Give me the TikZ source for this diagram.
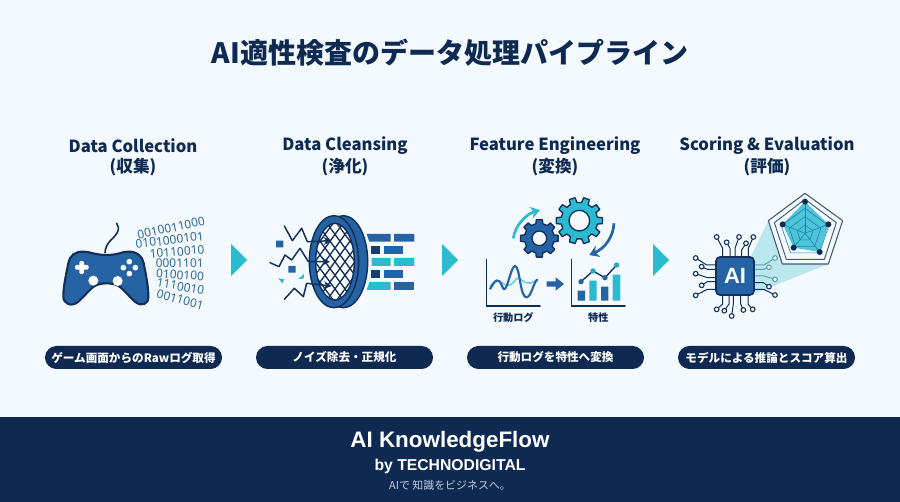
\documentclass[tikz,border=0pt]{standalone}
\usepackage{fontspec}
\setmainfont{Noto Sans CJK JP}
\newfontfamily\latinf{Noto Sans}
\newfontfamily\brandf{Liberation Sans}
\usetikzlibrary{arrows.meta,shapes.geometric}
\definecolor{navy}{HTML}{0E2A53}
\definecolor{ink}{HTML}{10305A}
\definecolor{blu}{HTML}{2563A5}
\definecolor{teal}{HTML}{2BBBD0}
\definecolor{bg}{HTML}{F3F9FC}
\definecolor{digit}{HTML}{2F6A9A}
\definecolor{tag}{HTML}{BFCEDF}
\definecolor{softpin}{HTML}{5F9FB0}
\tikzset{
  title/.style={text=navy,font=\bfseries\fontsize{21}{24}\selectfont,inner sep=0},
  head/.style={text=navy,font=\bfseries\fontsize{12.5}{16}\selectfont,inner sep=0},
  pill/.style={fill=navy,rounded corners=8.6pt,minimum width=132.75pt,minimum height=17.25pt,inner sep=0,text=white,font=\bfseries\fontsize{8.7}{10}\selectfont},
  next/.style={fill=teal},
  bin/.style={text=digit,inner sep=0,anchor=east,font=\latinf\fontsize{9}{10}\selectfont},
  lab/.style={text=navy,font=\bfseries\fontsize{7.6}{9}\selectfont,inner sep=0},
  line/.style={draw=ink,line width=1.1pt,line join=round,line cap=round},
  pin/.style={line width=.8pt,fill=bg},
  trace/.style={line width=.75pt,line join=round},
  zoomed/.style={x=.25pt,y=-.25pt},
  brand/.style={text=white,inner sep=0,font=\brandf\bfseries\fontsize{16.8}{18}\selectfont},
  byline/.style={text=white,inner sep=0,font=\brandf\bfseries\fontsize{11.8}{13}\selectfont},
  tagline/.style={text=tag,inner sep=0,font=\fontsize{8.2}{9}\selectfont}
}
\newcommand{\gearshape}[7]{%
  \begin{scope}[shift={(#1,#2)}]
  \pgfmathsetmacro{\pt}{360/#5}
  \filldraw[fill=#7,draw=ink,line width=1pt,line join=round]
   \foreach \k in {1,...,#5}{
     \ifnum\k=1 ({\pt*\k-.3*\pt}:#4) \else -- ({\pt*\k-.3*\pt}:#4) \fi
     -- ({\pt*\k-.2*\pt}:#3) -- ({\pt*\k+.2*\pt}:#3) -- ({\pt*\k+.3*\pt}:#4)
   } -- cycle;
  \filldraw[fill=bg,draw=ink,line width=1pt] (0,0) circle[radius=#6];
  \end{scope}}
\begin{document}
\begin{tikzpicture}[x=.75pt,y=-.75pt]
\useasboundingbox (0,0) rectangle (900,502);
\fill[bg] (0,0) rectangle (900,502);
\fill[navy] (0,417) rectangle (900,502);
\node[title] (t) at (450,53) {AI適性検査のデータ処理パイプライン};

\node[head] (h1) at (133,146) {Data Collection};
\node[head] (h1b) at (133,167) {(収集)};
\node[head] (h2) at (345,146) {Data Cleansing};
\node[head] (h2b) at (345,167) {(浄化)};
\node[head] (h3) at (555,146) {Feature Engineering};
\node[head] (h3b) at (555,167) {(変換)};
\node[head] (h4) at (767,146) {Scoring \& Evaluation};
\node[head] (h4b) at (767,167) {(評価)};

\node[pill] (p1) at (133.5,357.5) {ゲーム画面からのRawログ取得};
\node[pill] (p2) at (344.5,357.5) {ノイズ除去・正規化};
\node[pill] (p3) at (555.5,357.5) {行動ログを特性へ変換};
\node[pill] (p4) at (766.5,357.5) {モデルによる推論とスコア算出};

\fill[next] (231,244) -- (247,260) -- (231,276) -- cycle;
\fill[next] (442,244) -- (458,260) -- (442,276) -- cycle;
\fill[next] (653,244) -- (669,260) -- (653,276) -- cycle;

\node[brand] (f1) at (450,442) {AI KnowledgeFlow};
\node[byline] (f2) at (450,466) {by TECHNODIGITAL};
\node[tagline] (f3) at (450,485) {AIで 知識をビジネスへ。};

% controller
\begin{scope}[shift={(40,200)},zoomed]
\node[bin,rotate=12] (b1) at (495,62) {0010011000};
\node[bin,rotate=7] (b2) at (492,108) {0101000101};
\node[bin,rotate=5] (b3) at (494,148) {10110010};
\node[bin,rotate=1] (b4) at (492,188) {0001101};
\node[bin,rotate=-4] (b5) at (493,230) {0100100};
\node[bin,rotate=-10] (b6) at (493,272) {1110010};
\node[bin,rotate=-15] (b7) at (491,318) {0011001};
\draw[ink,line width=1.2pt,line cap=round] (195,158) .. controls (197,125) and (222,118) .. (233,95) .. controls (238,85) and (234,78) .. (230,70);
\filldraw[fill=blu,draw=ink,line width=1.6pt,line join=round]
 (130,155) .. controls (105,155) and (90,165) .. (85,190)
 .. controls (78,225) and (70,260) .. (70,290)
 .. controls (70,312) and (95,322) .. (115,305)
 .. controls (135,288) and (150,265) .. (168,256)
 .. controls (185,248) and (215,248) .. (232,256)
 .. controls (250,265) and (265,288) .. (285,305)
 .. controls (305,322) and (326,312) .. (325,290)
 .. controls (325,260) and (318,225) .. (311,190)
 .. controls (305,165) and (290,155) .. (265,155)
 .. controls (245,155) and (235,165) .. (200,165)
 .. controls (165,165) and (150,155) .. (130,155) -- cycle;
\fill[white,rounded corners=1pt] (118,183) rectangle (132,222);
\fill[white,rounded corners=1pt] (105,195) rectangle (146,209);
\fill[white] (160,242) circle[radius=15] (233,243) circle[radius=15];
\fill[white] (268,185) circle[radius=8.5] (268,221) circle[radius=8.5] (250,203) circle[radius=8.5] (286,203) circle[radius=8.5];
\end{scope}

% filter
\begin{scope}[shift={(255,200)},zoomed]
\fill[blu] (63,122) rectangle (85,142) (100,198) rectangle (122,218);
\fill[teal] (70,235) -- (88,238) -- (82,250) -- cycle (130,237) -- (147,222) -- (146,236) -- cycle;
\fill[blu] (335,102) -- (407,102) -- (407,125) -- (343,125) -- cycle (417,102) rectangle (478,125);
\fill[ink!70!blu] (347,138) rectangle (375,162);
\fill[blu] (387,138) rectangle (445,162);
\fill[teal] (350,174) rectangle (407,198) (417,174) rectangle (478,198);
\fill[ink!70!blu] (347,210) rectangle (375,234);
\fill[blu] (387,210) rectangle (445,234);
\fill[teal] (343,246) -- (407,246) -- (407,270) -- (335,270) -- cycle;
\fill[blu] (417,246) rectangle (478,270);
\filldraw[fill=blu,draw=ink,line width=1.1pt] (265,185) ellipse[x radius=73,y radius=138];
\filldraw[fill=blu,draw=ink,line width=1.1pt] (237,185) ellipse[x radius=74,y radius=138];
\begin{scope}
\clip (240,185) ellipse[x radius=58,y radius=115];
\fill[white] (150,50) rectangle (330,320);
\foreach \d in {-10,...,10}{
  \draw[ink,line width=1pt] ({240+\d*30-110},35) -- ({240+\d*30+110},335);
  \draw[ink,line width=1pt] ({240+\d*30+110},35) -- ({240+\d*30-110},335);
}
\end{scope}
\draw[ink,line width=1.1pt] (240,185) ellipse[x radius=58,y radius=115];
\draw[line,-{Stealth[length=6pt,width=6pt]}] (88,78) -- (112,122) -- (140,85) -- (157,125) -- (230,122);
\draw[line,-{Stealth[length=6pt,width=6pt]}] (45,188) -- (72,200) -- (90,165) -- (110,180) -- (135,145) -- (160,185) -- (225,185);
\draw[line,-{Stealth[length=6pt,width=6pt]}] (88,298) -- (118,265) -- (145,290) -- (155,250) -- (230,258);
\end{scope}

% features
\begin{scope}[shift={(465,190)},zoomed]
\draw[teal,line width=2pt,-{Stealth[length=7pt,width=9pt]}] (145,145) .. controls (150,105) and (185,72) .. (225,60);
\draw[blu,line width=2pt,-{Stealth[length=7pt,width=9pt]}] (447,100) .. controls (445,140) and (420,175) .. (373,195);
\gearshape{223}{145}{57}{45}{8}{22}{blu}
\gearshape{343}{92}{70}{55}{10}{31}{teal}
\draw[ink,line width=1.2pt,line cap=round] (65,208) -- (65,348) -- (225,348);
\draw[teal!70,line width=1.2pt] (75,290) .. controls (100,250) and (115,295) .. (135,285) .. controls (155,275) and (150,255) .. (170,270) .. controls (185,285) and (205,280) .. (218,268);
\draw[blu,line width=1.6pt] (75,298) .. controls (90,270) and (100,258) .. (112,290) .. controls (125,325) and (135,230) .. (150,228) .. controls (165,228) and (165,325) .. (185,322) .. controls (200,320) and (205,275) .. (218,268);
\fill[blu] (245,274) -- (272,274) -- (272,262) -- (297,282) -- (272,302) -- (272,290) -- (245,290) -- cycle;
\draw[ink,line width=1.2pt,line cap=round] (320,208) -- (320,348) -- (480,348);
\fill[blu] (338,302) rectangle (360,332) (408,290) rectangle (430,332);
\fill[teal] (373,272) rectangle (395,332) (443,254) rectangle (466,332);
\draw[ink,line width=1pt] (348,275) -- (384,243) -- (420,263) -- (455,225);
\fill[blu] (348,275) circle[radius=8] (420,263) circle[radius=8];
\fill[teal!85!ink] (384,243) circle[radius=8] (455,225) circle[radius=8];
\node[lab] (l1) at (145,382) {行動ログ};
\node[lab] (l2) at (400,382) {特性};
\end{scope}

% scoring
\begin{scope}[shift={(670,180)},zoomed]
\fill[teal,opacity=.28] (240,235) -- (295,122) -- (337,252) -- (475,252) -- (255,340) -- cycle;
\filldraw[fill=bg,draw=ink!80,line width=.8pt,line join=round] (405,40) -- (518,122) -- (475,252) -- (337,252) -- (295,122) -- cycle;
\draw[ink!80,line width=.7pt,line join=round] (405,58) -- (499,128) -- (463,238) -- (349,238) -- (313,128) -- cycle;
\fill[teal!85] (405,65) -- (475,133) -- (449,216) -- (371,203) -- (338,133) -- cycle;
\foreach \s in {.75,.5,.25}{
  \draw[blu!70!teal,line width=.45pt] ({405+\s*0},{160-\s*100}) -- ({405+\s*95},{160-\s*30}) -- ({405+\s*58},{160+\s*78}) -- ({405-\s*58},{160+\s*78}) -- ({405-\s*95},{160-\s*30}) -- cycle;
}
\foreach \a/\b in {405/65,475/133,449/216,371/203,338/133} \draw[blu!70!teal,line width=.45pt] (405,160) -- (\a,\b);
\fill[navy] (405,65) circle[radius=9] (475,133) circle[radius=9] (449,216) circle[radius=9] (371,203) circle[radius=9] (338,133) circle[radius=9];
% traces
\foreach \x/\y/\ex/\ey in {
 77/234/110/255, 95/260/112/268, 77/281/112/293, 95/316/112/305, 77/346/112/328}{
  \draw[trace,ink] (\x,\y) -- (\ex,\ey) -- (138,\ey);
  \filldraw[pin,draw=ink] (\x,\y) circle[radius=7];
}
\foreach \x/\y/\ex/\ey/\c in {
 315/234/282/255/softpin, 297/262/280/268/softpin, 315/298/282/288/softpin, 297/320/280/308/ink, 315/345/282/328/ink}{
  \draw[trace,\c] (\x,\y) -- (\ex,\ey) -- (253,\ey);
  \filldraw[pin,draw=\c] (\x,\y) circle[radius=7];
}
\foreach \x/\y/\ex/\ey in {
 140/171/158/205, 170/187/180/205, 207/171/195/205, 228/190/215/210, 250/171/235/205}{
  \draw[trace,ink] (\x,\y) -- (\ex,\ey) -- (\ex,232);
  \filldraw[pin,draw=ink] (\x,\y) circle[radius=7];
}
\foreach \x/\y/\ex/\ey in {
 140/388/158/372, 163/392/177/372, 185/408/190/372, 220/390/212/372, 248/388/234/372}{
  \draw[trace,ink] (\x,\y) -- (\ex,\ey) -- (\ex,345);
  \filldraw[pin,draw=ink] (\x,\y) circle[radius=7];
}
\filldraw[fill=blu,draw=ink,line width=1.2pt,rounded corners=3pt] (138,231) rectangle (252,345);
\node[text=white,inner sep=0,font=\brandf\bfseries\fontsize{16.5}{18}\selectfont] (ai) at (195,288) {AI};
\end{scope}
\end{tikzpicture}
\end{document}
